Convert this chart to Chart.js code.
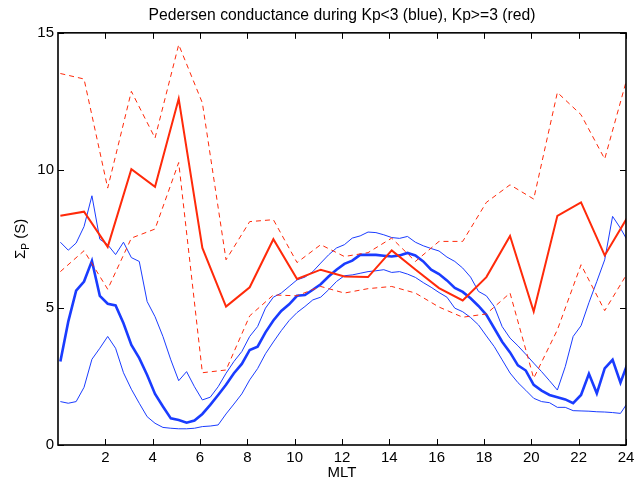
<!DOCTYPE html>
<html>
<head>
<meta charset="utf-8">
<script src="https://cdn.jsdelivr.net/npm/chart.js@4/dist/chart.umd.min.js"></script>
<style>
  html, body { margin: 0; padding: 0; background: #fff; }
  #wrap { width: 635px; height: 483px; }
</style>
</head>
<body>
<div id="wrap"><canvas id="myChart"></canvas></div>
<script>
// MLT bin centres: hourly for Kp>=3, 20-minute for Kp<3 (last point wraps round to the first)
let mltRed = [0.1, 1.1, 2.1, 3.1, 4.1, 5.1, 6.1, 7.1, 8.1, 9.1, 10.1, 11.1, 12.1,
    13.1, 14.1, 15.1, 16.1, 17.1, 18.1, 19.1, 20.1, 21.1, 22.1, 23.1, 24.1];
let mltBlue = [];
for (let k = 0; k <= 72; k++) mltBlue.push(0.1 + k / 3);

let xTicks = [2, 4, 6, 8, 10, 12, 14, 16, 18, 20, 22, 24];
let yTicks = [0, 5, 10, 15];

// Kp>=3 (red)
let redMean = [8.34, 8.49, 7.21, 10.04, 9.40, 12.60, 7.17, 5.04, 5.74, 7.49, 6.04, 6.38, 6.13,
    6.11, 7.08, 6.39, 5.71, 5.26, 6.11, 7.61, 4.86, 8.34, 8.83, 6.90, 8.34];
let redUpper = [13.52, 13.32, 9.35, 12.87, 11.17, 14.57, 12.45, 6.74, 8.13, 8.20, 6.64, 7.29, 6.86,
    7.00, 7.53, 6.68, 7.41, 7.41, 8.83, 9.47, 8.95, 12.83, 12.02, 10.41, 13.52];
let redLower = [6.31, 7.07, 5.67, 7.53, 7.86, 10.28, 2.63, 2.73, 4.70, 5.46, 5.43, 5.77, 5.53,
    5.69, 5.77, 5.53, 5.02, 4.65, 4.77, 5.53, 2.43, 4.19, 6.56, 4.89, 6.31];

// Kp<3 (blue)
let blueMean = [3.04, 4.49, 5.62, 5.95, 6.70, 5.43, 5.14, 5.08, 4.43, 3.64, 3.16, 2.55, 1.86, 1.40, 0.97, 0.91, 0.81, 0.89, 1.13, 1.46,
    1.82, 2.19, 2.61, 2.95, 3.46, 3.58, 4.10, 4.53, 4.88, 5.12, 5.43, 5.46, 5.65, 5.85, 6.13, 6.38, 6.59, 6.71, 6.92, 6.92,
    6.92, 6.89, 6.86, 6.90, 6.99, 6.90, 6.68, 6.38, 6.22, 5.99, 5.72, 5.57, 5.34, 5.06, 4.74, 4.25, 3.76, 3.37, 2.90, 2.71,
    2.19, 1.98, 1.82, 1.74, 1.66, 1.52, 1.82, 2.59, 1.88, 2.79, 3.10, 2.27, 3.04];
let blueUpper = [7.38, 7.09, 7.35, 7.95, 9.07, 7.49, 7.29, 6.93, 7.38, 6.82, 6.68, 5.22, 4.67, 3.95, 3.10, 2.34, 2.67, 2.12, 1.64, 1.74,
    2.12, 2.61, 3.04, 3.40, 3.95, 4.31, 4.98, 5.38, 5.53, 5.77, 6.01, 6.11, 6.31, 6.62, 6.92, 7.17, 7.29, 7.53, 7.61, 7.75,
    7.73, 7.65, 7.55, 7.52, 7.59, 7.38, 7.25, 7.15, 7.06, 6.84, 6.68, 6.44, 6.11, 5.59, 5.43, 5.04, 4.31, 3.89, 3.61, 3.30,
    2.98, 2.67, 2.34, 2.00, 2.85, 3.95, 4.34, 5.18, 5.95, 6.74, 8.32, 7.89, 7.38];
let blueLower = [1.58, 1.52, 1.58, 2.10, 3.12, 3.52, 3.95, 3.52, 2.63, 2.03, 1.52, 1.03, 0.79, 0.64, 0.61, 0.59, 0.59, 0.61, 0.67, 0.69,
    0.73, 1.13, 1.49, 1.86, 2.37, 2.78, 3.32, 3.75, 4.16, 4.53, 4.82, 5.04, 5.28, 5.38, 5.65, 5.95, 6.16, 6.19, 6.25, 6.31,
    6.34, 6.38, 6.28, 6.31, 6.22, 6.10, 5.91, 5.74, 5.55, 5.38, 4.98, 4.85, 4.64, 4.37, 3.97, 3.58, 3.10, 2.62, 2.27, 1.99,
    1.70, 1.58, 1.54, 1.37, 1.37, 1.25, 1.24, 1.23, 1.21, 1.20, 1.18, 1.15, 1.58];

let red = '#ff2a0a';
let blue = '#1a3cff';
let font = "'Liberation Sans', Arial, Helvetica, sans-serif";

function pts(xs, ys) {
    return ys.map((v, i) => ({ x: xs[i], y: v }));
}

function line(xs, ys, color, width, dash) {
    return {
        data: pts(xs, ys),
        borderColor: color,
        borderWidth: width,
        borderDash: dash || [],
        pointRadius: 0,
        tension: 0,
        fill: false,
        clip: 0
    };
}

// box round the axes, inward tick marks and the y label with its subscript
let frame = {
    id: 'frame',
    afterLayout(chart) {
        // centre the title over the plot box rather than the whole canvas
        if (chart.titleBlock) {
            chart.titleBlock.left = chart.chartArea.left;
            chart.titleBlock.right = chart.chartArea.right;
        }
    },
    afterDraw(chart) {
        let ctx = chart.ctx;
        let a = chart.chartArea;
        let sx = chart.scales.x, sy = chart.scales.y;
        ctx.save();
        ctx.strokeStyle = '#000';
        ctx.lineWidth = 1;
        ctx.beginPath();
        xTicks.forEach(t => {
            let px = Math.round(sx.getPixelForValue(t)) + 0.5;
            ctx.moveTo(px, a.bottom); ctx.lineTo(px, a.bottom - 6);
            ctx.moveTo(px, a.top); ctx.lineTo(px, a.top + 6);
        });
        yTicks.forEach(t => {
            let py = Math.round(sy.getPixelForValue(t)) + 0.5;
            ctx.moveTo(a.left, py); ctx.lineTo(a.left + 6, py);
            ctx.moveTo(a.right, py); ctx.lineTo(a.right - 6, py);
        });
        ctx.stroke();
        ctx.lineWidth = 1.6;
        ctx.strokeRect(a.left, a.top, a.right - a.left, a.bottom - a.top);

        // y axis label: Σ_P (S)
        ctx.fillStyle = '#000';
        ctx.textBaseline = 'alphabetic';
        ctx.translate(25, (a.top + a.bottom) / 2);
        ctx.rotate(-Math.PI / 2);
        ctx.font = '15px ' + font;
        let wS = ctx.measureText('\u03A3').width;
        let wRest = ctx.measureText(' (S)').width;
        ctx.font = '10px ' + font;
        let wP = ctx.measureText('P').width;
        let x0 = -(wS + wP + wRest) / 2;
        ctx.font = '15px ' + font;
        ctx.fillText('\u03A3', x0, 0);
        ctx.font = '10px ' + font;
        ctx.fillText('P', x0 + wS, 4);
        ctx.font = '15px ' + font;
        ctx.fillText(' (S)', x0 + wS + wP, 0);
        ctx.restore();
    }
};

let myChart = document.getElementById('myChart').getContext('2d');

let chart = new Chart(myChart, {
    type: 'line',
    data: {
        datasets: [
            line(mltRed, redMean, red, 2),
            line(mltRed, redUpper, red, 1, [5, 4]),
            line(mltRed, redLower, red, 1, [5, 4]),
            line(mltBlue, blueMean, blue, 2.6),
            line(mltBlue, blueUpper, blue, 1),
            line(mltBlue, blueLower, blue, 1)
        ]
    },
    options: {
        responsive: true,
        maintainAspectRatio: false,
        animation: false,
        layout: { padding: { left: 0, right: 9, top: 0, bottom: 0 } },
        plugins: {
            legend: { display: false },
            tooltip: { enabled: false },
            title: {
                display: true,
                text: 'Pedersen conductance during Kp<3 (blue), Kp>=3 (red)',
                color: '#000',
                font: { family: font, size: 15.7, weight: 'normal' },
                padding: { top: 6, bottom: 8 }
            }
        },
        scales: {
            x: {
                type: 'linear',
                min: 0,
                max: 24,
                afterBuildTicks: s => { s.ticks = xTicks.map(v => ({ value: v })); },
                afterFit: s => { s.height = 38; s.paddingLeft = 0; s.paddingRight = 0; },
                grid: { display: false, drawTicks: false },
                border: { display: false },
                ticks: { color: '#000', font: { family: font, size: 15 }, padding: 4, maxRotation: 0 },
                title: {
                    display: true,
                    text: 'MLT',
                    color: '#000',
                    font: { family: font, size: 15 },
                    padding: { top: 0, bottom: 1 }
                }
            },
            y: {
                min: 0,
                max: 15,
                afterBuildTicks: s => { s.ticks = yTicks.map(v => ({ value: v })); },
                afterFit: s => { s.width = 58; },
                grid: { display: false, drawTicks: false },
                border: { display: false },
                ticks: { color: '#000', font: { family: font, size: 15 }, padding: 4 }
            }
        }
    },
    plugins: [frame]
});
</script>
</body>
</html>
